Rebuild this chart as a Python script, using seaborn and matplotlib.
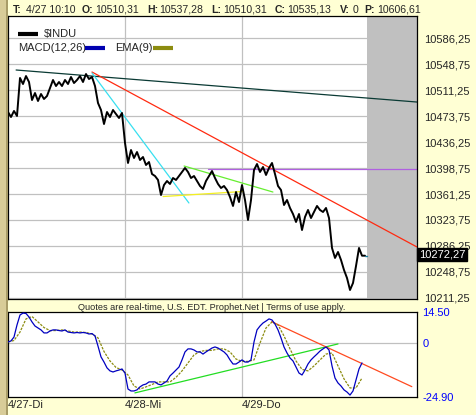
import matplotlib
matplotlib.use("Agg")
import matplotlib.pyplot as plt
from matplotlib.patches import Rectangle
import seaborn as sns
import numpy as np
import pandas as pd

# ---- data: 10-minute bars, 39 bars per session ----
day_labels = ["4/27-Di", "4/28-Mi", "4/29-Do"]
day_starts = [0, 39, 78]
view_end = 136.33          # right edge of the chart, in bars
future_start = 119.7       # grey "future" area

price = [
    10479.5, 10472.3, 10481.0, 10473.8, 10528.6, 10519.9, 10531.4, 10522.8,
    10496.8, 10506.9, 10495.4, 10505.5, 10498.3, 10502.6, 10514.1, 10525.7,
    10517.0, 10522.8, 10517.0, 10525.7, 10519.9, 10530.0, 10521.3, 10525.7,
    10531.4, 10522.8, 10534.3, 10527.1, 10530.0, 10517.0, 10492.5, 10482.4,
    10462.2, 10479.5, 10472.3, 10482.4, 10476.6, 10470.9, 10478.1, 10434.8,
    10406.0, 10424.7, 10413.2, 10421.8, 10410.3, 10414.6, 10403.1, 10407.4,
    10390.1, 10387.2, 10381.5, 10359.8, 10374.2, 10380.0, 10375.7, 10384.3,
    10381.5, 10387.2, 10393.0, 10398.8, 10393.0, 10384.3, 10387.2, 10380.0,
    10372.8, 10368.5, 10380.0, 10387.2, 10394.4, 10384.3, 10375.7, 10369.9,
    10372.8, 10367.0, 10356.9, 10344.0, 10364.1, 10349.7, 10374.2, 10352.6,
    10323.8, 10352.6, 10395.9, 10404.5, 10393.0, 10400.2, 10388.7, 10398.8,
    10406.0, 10390.1, 10372.8, 10367.0, 10345.4, 10352.6, 10341.1, 10332.4,
    10320.9, 10332.4, 10309.3, 10328.1, 10338.2, 10326.6, 10335.3, 10344.0,
    10338.2, 10335.3, 10341.1, 10326.6, 10283.4, 10269.0, 10277.6, 10266.1,
    10251.6, 10240.1, 10222.8, 10232.9, 10257.4, 10283.4, 10272.27, 10272.27,
]
last_price = 10272.27

macd = [
    0.6, 1.1, 2.9, 8.5, 13.1, 14.0, 13.8, 12.2, 9.9, 8.0, 7.1, 6.2, 4.8, 4.8,
    5.7, 6.2, 6.2, 5.9, 5.7, 6.2, 5.2, 5.0, 4.8, 5.0, 4.8, 5.0, 4.8, 4.3, 4.5,
    3.4, -1.3, -6.3, -8.7, -11.4, -12.8, -13.3, -12.8, -12.4, -11.9, -13.8,
    -21.2, -22.1, -22.1, -21.6, -20.2, -19.3, -18.9, -17.9, -17.9, -17.9,
    -18.9, -19.3, -18.4, -17.5, -15.1, -13.8, -12.4, -11.0, -7.7, -4.0, -2.6,
    -2.6, -3.1, -4.0, -4.0, -5.0, -4.0, -3.1, -2.2, -1.7, -2.2, -3.1, -4.0,
    -5.4, -7.7, -9.6, -9.6, -8.7, -7.7, -8.7, -8.7, -7.7, 0.6, 6.2, 8.0, 9.4,
    10.3, 11.3, 10.8, 8.9, 6.2, 2.5, -1.7, -4.5, -6.8, -8.2, -11.0, -13.8,
    -14.7, -12.4, -9.6, -7.7, -6.3, -5.0, -3.6, -2.6, -1.7, -3.1, -10.5,
    -16.1, -18.4, -19.8, -21.6, -22.6, -24.0, -22.1, -17.0, -11.9, -9.1,
]

# EMA(9) signal line, read every second bar
ema9 = [
    0.6, 1.3, 5.2, 11.3, 12.4, 9.9, 7.3, 5.9, 5.9, 6.2, 5.7, 5.2, 5.2, 5.0,
    4.3, 2.5, -3.8, -8.2, -11.2, -12.4, -14.7, -19.8, -21.2, -20.2, -19.1,
    -17.9, -17.9, -17.9, -15.8, -12.8, -9.1, -5.4, -3.8, -3.3, -3.3, -2.6,
    -2.6, -4.0, -7.3, -8.4, -8.4, -7.7, 0.1, 7.1, 9.9, 8.5, 3.4, -2.6, -8.2,
    -12.1, -12.8, -10.5, -7.7, -5.0, -4.5, -10.5, -16.5, -20.7, -20.7, -16.1,
]

price_ticks = [10586.25, 10548.75, 10511.25, 10473.75, 10436.25, 10398.75,
               10361.25, 10323.75, 10286.25, 10248.75, 10211.25]
price_lim = (10209.8, 10618.0)
macd_ticks = [14.5, 0, -24.9]
macd_lim = (-24.9, 14.5)

# hand drawn trend lines: (x0, y0, x1, y1, colour)
price_trends = [
    (2.7, 10540.1, view_end, 10493.9, "#0a3a34"),
    (28.0, 10537.2, view_end, 10284.8, "#ff2a10"),
    (28.0, 10535.8, 60.3, 10348.3, "#38e0f0"),
    (51.7, 10357.6, 78.3, 10364.9, "#f4f020"),
    (58.7, 10401.6, 88.3, 10364.1, "#66ee30"),
    (66.7, 10397.3, view_end, 10397.3, "#b060e0"),
]
macd_trends = [
    (42.3, -23.0, 110.0, -0.3, "#22dd22"),
    (87.9, 10.0, 134.6, -20.1, "#ff4a20"),
]

# ---- style ----
sns.set_style("white")
plt.rcParams["font.family"] = ["Liberation Sans", "DejaVu Sans"]
BG = "#ffffd4"
W, H = 477, 415

fig = plt.figure(figsize=(W / 100, H / 100), dpi=100, facecolor=BG)


def fx(px):
    return px / W


def fy(py):
    return 1 - py / H


ax = fig.add_axes([fx(8), fy(299), fx(417) - fx(8), fy(16) - fy(299)])
ax2 = fig.add_axes([fx(8), fy(397), fx(417) - fx(8), fy(312) - fy(397)])

# left strip
fig.patches.append(Rectangle((0, 0), fx(7), 1, transform=fig.transFigure,
                             facecolor="#d8cc98", edgecolor="none", zorder=0))
fig.patches.append(Rectangle((fx(6), 0), fx(1.5), 1, transform=fig.transFigure,
                             facecolor="#a89c68", edgecolor="none", zorder=0))

# ---- price panel ----
df_price = pd.DataFrame({"bar": np.arange(len(price)), "price": price})
ax.set_facecolor("white")
ax.axvspan(future_start, view_end, color="#c0c0c0", lw=0, zorder=0)
for t in price_ticks:
    ax.axhline(t, color="#c0c0c0", lw=0.9, zorder=1)
for d in day_starts[1:]:
    ax.axvline(d, color="#c0c0c0", lw=0.9, zorder=1)

for x0, y0, x1, y1, c in price_trends:
    ax.plot([x0, x1], [y0, y1], color=c, lw=0.9, zorder=2)

sns.lineplot(data=df_price, x="bar", y="price", ax=ax, color="black",
             lw=1.4, zorder=3)
ax.plot([len(price) - 1, len(price) - 0.3], [last_price, last_price],
        color="#2080a0", lw=1, zorder=3)

ax.set_xlim(0, view_end)
ax.set_ylim(*price_lim)
ax.set_xticks([])
ax.set_yticks(price_ticks)
ax.set_yticklabels([f"{t:.2f}".replace(".", ",") for t in price_ticks],
                   fontsize=8)
ax.yaxis.tick_right()
ax.tick_params(axis="y", length=0, pad=5)
ax.set_xlabel("")
ax.set_ylabel("")
for s in ax.spines.values():
    s.set_color("black")
    s.set_linewidth(0.9)

# last price box (covers the neighbouring tick label like the original)
fig.text(fx(419), fy(254.5), f"{last_price:.2f}".replace(".", ","),
         color="white", fontsize=8, va="center", ha="left", zorder=10,
         bbox=dict(boxstyle="square,pad=0.15", facecolor="black",
                   edgecolor="black"))

# legend
ax.plot([0.025, 0.073], [0.937, 0.937], transform=ax.transAxes,
        color="black", lw=3, solid_capstyle="butt", zorder=5)
ax.text(0.088, 0.937, "$INDU", transform=ax.transAxes, fontsize=8,
        va="center", zorder=5)
ax.text(0.025, 0.888, "MACD(12,26)", transform=ax.transAxes, fontsize=8,
        va="center", zorder=5)
ax.plot([0.188, 0.237], [0.888, 0.888], transform=ax.transAxes,
        color="#0000b0", lw=3, solid_capstyle="butt", zorder=5)
ax.text(0.262, 0.888, "EMA(9)", transform=ax.transAxes, fontsize=8,
        va="center", zorder=5)
ax.plot([0.355, 0.403], [0.888, 0.888], transform=ax.transAxes,
        color="#8c8c10", lw=3, solid_capstyle="butt", zorder=5)

# ---- MACD panel ----
df_macd = pd.DataFrame({"bar": np.arange(len(macd)), "macd": macd})
df_ema = pd.DataFrame({"bar": np.arange(len(ema9)) * 2, "ema": ema9})
ax2.set_facecolor("white")
ax2.axhline(0, color="#c0c0c0", lw=0.9, zorder=1)
for d in day_starts[1:]:
    ax2.axvline(d, color="#c0c0c0", lw=0.9, zorder=1)
for x0, y0, x1, y1, c in macd_trends:
    ax2.plot([x0, x1], [y0, y1], color=c, lw=0.9, zorder=2)
sns.lineplot(data=df_ema, x="bar", y="ema", ax=ax2, color="#8c8c10",
             lw=0.9, zorder=3, linestyle=(0, (2, 1)))
sns.lineplot(data=df_macd, x="bar", y="macd", ax=ax2, color="#0000c0",
             lw=0.9, zorder=4)
ax2.set_xlim(0, view_end)
ax2.set_ylim(*macd_lim)
ax2.set_yticks(macd_ticks)
ax2.set_yticklabels(["14.50", "0", "-24.90"], fontsize=8, color="#0000ff")
ax2.yaxis.tick_right()
ax2.tick_params(axis="y", length=0, pad=4)
ax2.set_xticks(day_starts)
ax2.set_xticklabels(day_labels, fontsize=8, ha="left")
ax2.tick_params(axis="x", length=0, pad=2)
ax2.set_xlabel("")
ax2.set_ylabel("")
for s in ax2.spines.values():
    s.set_color("black")
    s.set_linewidth(0.9)

fig.text(fx(212), fy(307), "Quotes are real-time, U.S. EDT. Prophet.Net | Terms of use apply.",
         fontsize=6.6, ha="center", va="center")

# ---- header quote line ----
header = [
    (12.5, "T:", True), (26, "4/27 10:10", False),
    (82, "O:", True), (95, "10510,31", False),
    (147, "H:", True), (159, "10537,28", False),
    (211, "L:", True), (223, "10510,31", False),
    (275, "C:", True), (287, "10535,13", False),
    (340, "V:", True), (353, "0", False),
    (364, "P:", True), (377, "10606,61", False),
]
for px, txt, bold in header:
    fig.text(fx(px), fy(10), txt, fontsize=7.6, va="center", ha="left",
             fontweight="bold" if bold else "normal")

fig.savefig("out.png", dpi=100, facecolor=BG)
